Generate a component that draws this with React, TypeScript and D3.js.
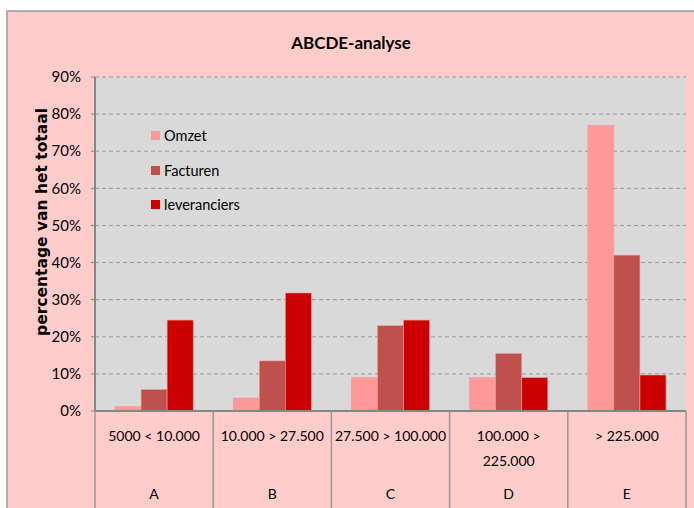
import React from 'react';
import * as d3 from 'd3';

const categories = ['A', 'B', 'C', 'D', 'E'];
const ranges = [['5000 < 10.000'], ['10.000 > 27.500'], ['27.500 > 100.000'], ['100.000 >', '225.000'], ['> 225.000']];
const series = ['Omzet', 'Facturen', 'leveranciers'];
const omzet = [0.012, 0.035, 0.09, 0.09, 0.77];
const facturen = [0.058, 0.135, 0.23, 0.155, 0.42];
const leveranciers = [0.245, 0.318, 0.245, 0.09, 0.097];
const yTicks = [0, 0.1, 0.2, 0.3, 0.4, 0.5, 0.6, 0.7, 0.8, 0.9];

const colors = ['#FF9999', '#C0504D', '#CC0000'];
const values = [omzet, facturen, leveranciers];
const font = 'Lato, Calibri, sans-serif';

export default function App() {
  const width = 694;
  const height = 508;
  const left = 95;
  const right = 686;
  const top = 77;
  const bottom = 411;

  const x = d3.scaleBand<string>().domain(categories).range([left, right]);
  const x1 = d3.scaleBand<string>().domain(series).range([20, x.bandwidth() - 20]);
  const y = d3.scaleLinear().domain([0, 0.9]).range([bottom, top]);
  const fmt = d3.format('.0%');

  return (
    <svg width={width} height={height} style={{ position: 'absolute', left: 0, top: 0 }} fontFamily={font}>
      <rect x={0} y={0} width={width} height={height} fill="#fff" />
      <rect x={7} y={11} width={width} height={height} fill="#FFCCCC" stroke="#999" strokeWidth={1.5} />
      <text x={351} y={49} textAnchor="middle" fontSize={17} fontWeight="bold" fill="#000">ABCDE-analyse</text>

      <rect x={left} y={top} width={right - left} height={bottom - top} fill="#D9D9D9" />
      {yTicks.filter(t => t > 0).map(t => (
        <line key={t} x1={left} x2={right} y1={y(t)} y2={y(t)} stroke="#999" strokeDasharray="4,3" />
      ))}

      {categories.map((c, i) => (
        <g key={c} transform={`translate(${x(c)},0)`}>
          {series.map((s, j) => (
            <rect key={s} x={x1(s)} y={y(values[j][i])} width={x1.bandwidth()}
              height={bottom - y(values[j][i])} fill={colors[j]} stroke="#E8A0A0" strokeWidth={0.6} />
          ))}
        </g>
      ))}

      <line x1={left} x2={left} y1={top} y2={bottom} stroke="#868686" strokeWidth={2} />
      {yTicks.map(t => (
        <g key={t}>
          <line x1={left - 4} x2={left} y1={y(t)} y2={y(t)} stroke="#868686" />
          <text x={81} y={y(t)} dy="0.35em" textAnchor="end" fontSize={15} fill="#000">{fmt(t)}</text>
        </g>
      ))}
      <line x1={left} x2={right} y1={bottom} y2={bottom} stroke="#868686" strokeWidth={2} />

      {categories.map((c, i) => (
        <g key={c}>
          <line x1={x(c)} x2={x(c)} y1={bottom} y2={height} stroke="#999" strokeWidth={1.5} />
          {ranges[i].map((r, k) => (
            <text key={k} x={x(c)! + x.bandwidth() / 2} y={441 + k * 25} textAnchor="middle" fontSize={14} fill="#000">{r}</text>
          ))}
          <text x={x(c)! + x.bandwidth() / 2} y={499} textAnchor="middle" fontSize={14} fill="#000">{c}</text>
        </g>
      ))}
      <line x1={right} x2={right} y1={bottom} y2={height} stroke="#999" strokeWidth={1.5} />

      <text transform={`translate(47,222) rotate(-90)`} textAnchor="middle" fontSize={15.5}
        fontFamily="'DejaVu Sans', sans-serif" fontWeight="bold" fill="#000">percentage van het totaal</text>

      {series.map((s, j) => {
        const cy = [136, 171, 205][j];
        return (
          <g key={s}>
            <rect x={151} y={cy - 5} width={9} height={9} fill={colors[j]} />
            <text x={164} y={cy} dy="0.35em" fontSize={14.5} fill="#000">{s}</text>
          </g>
        );
      })}
    </svg>
  );
}
